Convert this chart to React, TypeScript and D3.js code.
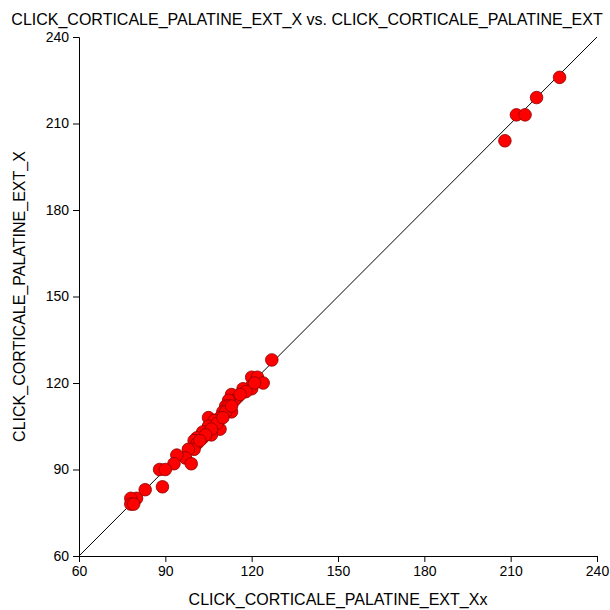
import React, { useEffect, useRef } from "react";
import * as d3 from "d3";

const title = "CLICK_CORTICALE_PALATINE_EXT_X vs. CLICK_CORTICALE_PALATINE_EXT";
const xLabel = "CLICK_CORTICALE_PALATINE_EXT_Xx";
const yLabel = "CLICK_CORTICALE_PALATINE_EXT_X";
const tickValues = [60, 90, 120, 150, 180, 210, 240];

const xValues = [
  227, 219, 212, 215, 208,
  127, 120, 122, 124, 120, 120, 117, 118, 115, 113, 114, 112, 111, 113, 110,
  109, 105, 107, 105, 109, 106, 103, 103, 101, 100, 101, 100, 98, 97, 94,
  93, 99, 88, 90, 89, 83, 80, 78, 78, 79,
  108, 106, 112, 116, 111, 104, 102, 110, 113, 121,
];
const yValues = [
  226, 219, 213, 213, 204,
  128, 122, 122, 120, 119, 118, 118, 117, 115, 116, 114, 114, 112, 110, 110,
  108, 108, 107, 105, 104, 102, 103, 101, 101, 100, 99, 97, 97, 94, 95,
  92, 92, 90, 90, 84, 83, 80, 80, 78, 78,
  106, 104, 112, 116, 110, 102, 100, 108, 112, 120,
];

export default function App() {
  const ref = useRef<SVGSVGElement>(null);
  useEffect(() => {
    const svg = d3.select(ref.current);
    svg.selectAll("*").remove();
    const left = 79, right = 597, top = 37, bottom = 556;
    const x = d3.scaleLinear().domain([60, 240]).range([left, right]);
    const y = d3.scaleLinear().domain([60, 240]).range([bottom, top]);
    const font = "Arial, 'Liberation Sans', sans-serif";

    svg.append("text").attr("x", 307).attr("y", 25).attr("text-anchor", "middle")
      .attr("font-family", font).attr("font-size", 16).text(title);

    const xa = svg.append("g").attr("transform", `translate(0,${bottom})`)
      .call(d3.axisBottom(x).tickValues(tickValues).tickSize(6).tickPadding(4).tickFormat(d3.format("d")));
    const ya = svg.append("g").attr("transform", `translate(${left},0)`)
      .call(d3.axisLeft(y).tickValues(tickValues).tickSize(6).tickPadding(4).tickFormat(d3.format("d")));
    [xa, ya].forEach((g) => {
      g.selectAll("text").attr("font-family", font).attr("font-size", 14).attr("fill", "#000");
      g.select(".domain").attr("stroke", "#000");
      g.selectAll(".tick line").attr("stroke", "#000");
    });

    svg.append("line").attr("x1", x(60)).attr("y1", y(60)).attr("x2", x(240)).attr("y2", y(240))
      .attr("stroke", "#000").attr("stroke-width", 1);

    svg.append("g").selectAll("circle").data(xValues.map((v, i) => [v, yValues[i]]))
      .join("circle")
      .attr("cx", (d) => x(d[0])).attr("cy", (d) => y(d[1])).attr("r", 6.3)
      .attr("fill", "#ff0000").attr("stroke", "#8b0000").attr("stroke-width", 0.8);

    svg.append("text").attr("x", (left + right) / 2).attr("y", 605).attr("text-anchor", "middle")
      .attr("font-family", font).attr("font-size", 16).text(xLabel);
    svg.append("text").attr("transform", `translate(25,${(top + bottom) / 2}) rotate(-90)`)
      .attr("text-anchor", "middle").attr("font-family", font).attr("font-size", 16).text(yLabel);
  }, []);
  return (
    <svg ref={ref} width={610} height={610}
      style={{ position: "absolute", left: 0, top: 0, background: "#fff" }} />
  );
}
